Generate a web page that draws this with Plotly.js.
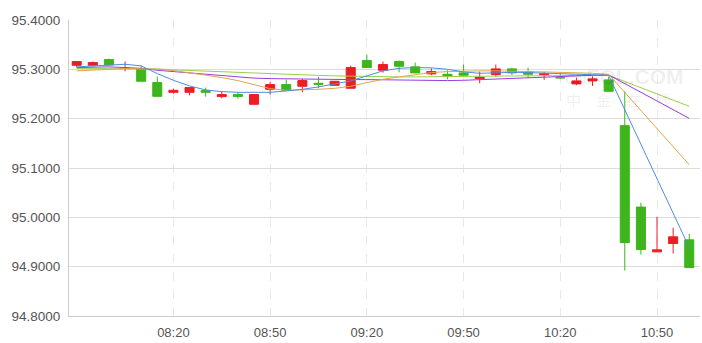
<!DOCTYPE html>
<html>
<head>
<meta charset="utf-8">
<script src="https://cdn.plot.ly/plotly-3.0.1.min.js"></script>
<style>
html,body{margin:0;padding:0;background:#fff;}
#chart{width:702px;height:343px;}
</style>
</head>
<body>
<div id="chart"></div>
<script>
var times = ["07:50","07:55","08:00","08:05","08:10","08:15","08:20","08:25","08:30","08:35",
             "08:40","08:45","08:50","08:55","09:00","09:05","09:10","09:15","09:20","09:25",
             "09:30","09:35","09:40","09:45","09:50","09:55","10:00","10:05","10:10","10:15",
             "10:20","10:25","10:30","10:35","10:40","10:45","10:50","10:55","11:00"];

var openVals  = [95.3082,95.3082,95.3198,95.3020,95.3009,95.2731,95.2534,95.2534,95.2569,95.2447,
                 95.2488,95.2291,95.2595,95.2691,95.2656,95.2717,95.2676,95.2616,95.3178,95.2981,
                 95.3158,95.3050,95.2908,95.2900,95.2928,95.2812,95.2894,95.3009,95.2955,95.2888,
                 95.2839,95.2705,95.2766,95.2786,95.1858,95.0208,94.9300,94.9469,94.9544];
var highVals  = [95.3157,95.3158,95.3218,95.3158,95.3076,95.2853,95.2609,95.2630,95.2630,95.2555,
                 95.2542,95.2488,95.2745,95.2792,95.2806,95.2847,95.2758,95.3076,95.3300,95.3158,
                 95.3178,95.3137,95.3022,95.2981,95.3097,95.2955,95.3097,95.3036,95.3036,95.2948,
                 95.2934,95.2833,95.2859,95.2847,95.2555,95.0295,95.0011,94.9788,94.9666];
var lowVals   = [95.3042,95.3062,95.3090,95.2960,95.2758,95.2453,95.2508,95.2473,95.2447,95.2413,
                 95.2407,95.2291,95.2488,95.2575,95.2534,95.2616,95.2676,95.2616,95.3036,95.2934,
                 95.2940,95.2928,95.2880,95.2798,95.2880,95.2717,95.2853,95.2888,95.2819,95.2786,
                 95.2806,95.2676,95.2664,95.2555,94.8921,94.9246,94.9300,94.9266,94.8982];
var closeVals = [95.3157,95.3137,95.3090,95.3024,95.2758,95.2453,95.2575,95.2630,95.2534,95.2488,
                 95.2447,95.2488,95.2691,95.2575,95.2772,95.2697,95.2758,95.3036,95.3036,95.3097,
                 95.3062,95.2928,95.2955,95.2859,95.2880,95.2839,95.3009,95.2928,95.2900,95.2908,
                 95.2827,95.2766,95.2806,95.2555,94.9489,94.9347,94.9341,94.9605,94.8982];

var maBlue   = [95.3050,95.3070,95.3090,95.3103,95.3070,95.2914,95.2778,95.2664,95.2583,95.2548,
                95.2534,95.2535,95.2534,95.2562,95.2595,95.2644,95.2711,95.2765,95.2867,95.2969,
                95.3021,95.3036,95.3030,95.3001,95.2948,95.2920,95.2928,95.2940,95.2934,95.2920,
                95.2914,95.2899,95.2887,95.2879,null,null,null,null,94.9387];
var maOrange = [95.2969,95.2981,95.3001,95.3015,95.3009,95.3001,95.2975,95.2934,95.2883,95.2832,
                95.2772,95.2690,95.2609,95.2575,95.2583,95.2595,95.2615,95.2656,95.2731,95.2798,
                95.2847,95.2887,95.2934,95.2954,95.2969,95.2969,95.2969,95.2969,95.2954,95.2948,
                95.2940,95.2934,95.2920,95.2899,null,null,null,null,95.1066];
var maPurple = [95.3036,95.3042,95.3050,95.3036,95.3021,95.2981,95.2954,95.2928,95.2900,95.2879,
                95.2853,95.2822,95.2812,95.2806,95.2798,95.2798,95.2792,95.2792,95.2792,95.2786,
                95.2778,95.2772,95.2765,95.2772,95.2778,95.2792,95.2806,95.2818,95.2832,95.2847,
                95.2859,95.2867,95.2879,95.2887,null,null,null,null,95.2006];
var maGreen  = [95.3015,95.3015,95.3019,95.3021,95.3021,95.3009,95.2989,95.2975,95.2965,95.2954,
                95.2940,95.2924,95.2914,95.2899,95.2887,95.2877,95.2867,95.2859,95.2853,95.2849,
                95.2847,95.2847,95.2847,95.2853,95.2857,95.2859,95.2863,95.2867,95.2869,95.2873,
                95.2873,95.2873,95.2877,95.2879,null,null,null,null,95.2250];

var yTicks = [94.8,94.9,95.0,95.1,95.2,95.3,95.4];
var xTickLabels = ["08:20","08:50","09:20","09:50","10:20","10:50"];

var day = "2024-01-01 ";
var xs = times.map(function(t){ return day + t + ":00"; });
var xTickVals = xTickLabels.map(function(t){ return day + t + ":00"; });

function maTrace(vals, color){
  return {type:"scatter", mode:"lines", x:xs, y:vals, connectgaps:true,
          line:{color:color, width:1}, hoverinfo:"skip", showlegend:false};
}

var data = [
  {type:"candlestick", x:xs, open:openVals, high:highVals, low:lowVals, close:closeVals,
   increasing:{line:{color:"#ee1d23", width:1}, fillcolor:"#ee1d23"},
   decreasing:{line:{color:"#3db51b", width:1}, fillcolor:"#3db51b"},
   whiskerwidth:0, showlegend:false, hoverinfo:"skip"},
  maTrace(maGreen, "#9bd04c"),
  maTrace(maPurple, "#9b3ce0"),
  maTrace(maOrange, "#e0a64a"),
  maTrace(maBlue, "#4a8fe0")
];

var layout = {
  width:702, height:343,
  margin:{l:69, r:2, t:20, b:27, pad:0},
  paper_bgcolor:"#ffffff", plot_bgcolor:"#ffffff",
  showlegend:false,
  boxgap:0.44, boxgroupgap:0,
  font:{family:"Liberation Sans, Arial, sans-serif", size:13, color:"#555555"},
  xaxis:{type:"date",
         range:[day+"07:47:37", day+"11:03:20"],
         tickmode:"array", tickvals:xTickVals, ticktext:xTickLabels,
         showgrid:true, gridcolor:"#e8e8e8", griddash:"dash", gridwidth:1,
         showline:true, linecolor:"#cccccc", linewidth:1,
         ticks:"", ticklabelstandoff:4, zeroline:false, rangeslider:{visible:false},
         tickfont:{size:13, color:"#555555"}, fixedrange:true},
  yaxis:{range:[94.8,95.4], tickvals:yTicks, tickformat:".4f",
         showgrid:true, gridcolor:"#dcdcdc", gridwidth:1,
         showline:true, linecolor:"#cccccc", linewidth:1,
         ticks:"", ticklabelstandoff:5, zeroline:false,
         tickfont:{size:13.5, color:"#555555"}, fixedrange:true},
  annotations:[
    {xref:"paper", yref:"paper", x:0.783, y:0.855, xanchor:"left", showarrow:false,
     text:"<b><span style='font-size:15px'>CN</span>FOL.COM</b>",
     font:{family:"Liberation Sans, Arial, sans-serif", size:21, color:"rgba(0,0,0,0.08)"}},
    {xref:"paper", yref:"paper", x:0.785, y:0.774, xanchor:"left", showarrow:false,
     text:"中　金　在　线",
     font:{family:"Noto Sans CJK SC", size:15, color:"rgba(0,0,0,0.08)"}}
  ]
};

Plotly.newPlot("chart", data, layout, {staticPlot:true, displayModeBar:false});
</script>
</body>
</html>
